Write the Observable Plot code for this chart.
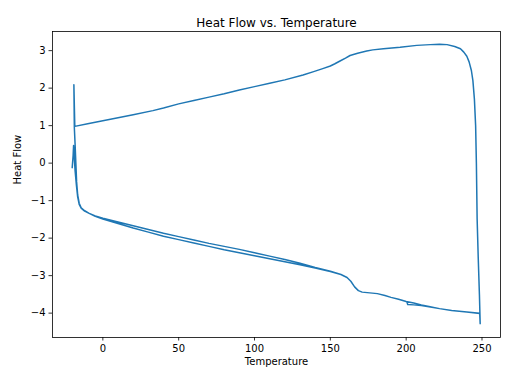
<!DOCTYPE html>
<html>
<head>
<meta charset="utf-8">
<script src="https://cdn.jsdelivr.net/npm/d3@7"></script>
<script src="https://cdn.jsdelivr.net/npm/@observablehq/plot@0.6"></script>
<style>
  html, body { margin: 0; padding: 0; background: #fff; }
  #chart { width: 512px; height: 384px; }
</style>
</head>
<body>
<div id="chart"></div>
<script>
// ---- Data ----
const title = "Heat Flow vs. Temperature";
const xLabel = "Temperature";
const yLabel = "Heat Flow";
const xTicks = [0, 50, 100, 150, 200, 250];
const yTicks = [-4, -3, -2, -1, 0, 1, 2, 3];

// first heating
const heat1T  = [-20.2, -19.6, -19.3, -18.9, -18.3, -17.4, -16.6, -15.6, -14.3, -12, -9, -5, 0, 10, 20, 30, 40, 50, 60, 70, 80, 90, 100, 110, 120, 130, 140, 150, 157, 161, 163.5, 166, 168.5, 171, 176, 181, 186, 190, 195, 200, 205, 210, 215, 222, 230, 240, 248.5];
const heat1HF = [-0.12, 0.2, 0.47, 0.2, -0.2, -0.6, -0.9, -1.1, -1.2, -1.28, -1.34, -1.41, -1.47, -1.57, -1.67, -1.77, -1.87, -1.96, -2.05, -2.14, -2.22, -2.3, -2.39, -2.48, -2.57, -2.67, -2.78, -2.88, -2.97, -3.05, -3.15, -3.3, -3.4, -3.44, -3.46, -3.48, -3.53, -3.58, -3.63, -3.69, -3.73, -3.78, -3.82, -3.88, -3.93, -3.97, -4.01];

// cooling
const coolT  = [248.8, 248.3, 247.5, 246.8, 246.3, 245.8, 245, 244, 243, 241.5, 240, 238, 235.8, 232, 227, 222, 216, 207, 196, 185, 178, 174, 168, 163, 160, 156.7, 153, 150, 145, 139, 132, 120, 110, 100, 90, 80, 70, 60, 50, 40, 33, 20, 10, 0, -10, -18.5];
const coolHF = [-4.28, -3.5, -2.5, -1.5, 0, 1, 1.7, 2.2, 2.47, 2.7, 2.85, 2.96, 3.05, 3.11, 3.16, 3.17, 3.16, 3.14, 3.09, 3.05, 3.02, 2.99, 2.93, 2.87, 2.8, 2.73, 2.65, 2.59, 2.52, 2.44, 2.35, 2.22, 2.13, 2.04, 1.95, 1.85, 1.76, 1.67, 1.58, 1.47, 1.4, 1.29, 1.21, 1.13, 1.05, 0.98];

// second heating
const heat2T  = [-19.1, -18.8, -18.3, -17.8, -17.3, -16.6, -15.6, -14.3, -12, -9, -5, 0, 10, 20, 30, 40, 50, 60, 70, 80, 90, 100, 110, 120, 130, 140, 150, 157, 161, 163.5, 166, 168.5, 171, 176, 181, 186, 190, 195, 200.5, 201, 205, 210, 215, 222, 230, 240, 248.5];
const heat2HF = [2.09, 0.95, 0.5, 0, -0.5, -0.85, -1.07, -1.19, -1.27, -1.34, -1.42, -1.49, -1.61, -1.73, -1.84, -1.95, -2.04, -2.13, -2.22, -2.31, -2.39, -2.47, -2.55, -2.63, -2.71, -2.8, -2.89, -2.97, -3.05, -3.15, -3.3, -3.4, -3.44, -3.46, -3.48, -3.53, -3.58, -3.63, -3.7, -3.77, -3.78, -3.8, -3.83, -3.88, -3.93, -3.97, -4.0];

// ---- Build the ordered path ----
const data = [];
heat1T.forEach((t, i) => data.push({T: t, HF: heat1HF[i]}));
coolT.forEach((t, i) => data.push({T: t, HF: coolHF[i]}));
heat2T.forEach((t, i) => data.push({T: t, HF: heat2HF[i]}));

const font = "DejaVu Sans, sans-serif";

const chart = Plot.plot({
  width: 512,
  height: 384,
  marginLeft: 52,
  marginRight: 12,
  marginTop: 31,
  marginBottom: 47,
  style: { fontFamily: font, fontSize: "10px", color: "black", background: "white", overflow: "visible" },
  x: { domain: [-33.2, 262.2] },
  y: { domain: [-4.65, 3.51] },
  marks: [
    Plot.line(data, { x: "T", y: "HF", stroke: "#1f77b4", strokeWidth: 1.5, curve: "linear" }),
    Plot.frame({ stroke: "black", strokeWidth: 0.8 }),
    Plot.axisX({ ticks: xTicks, tickSize: 3.5, tickPadding: 3.5, label: null, fontSize: 10, strokeWidth: 0.8 }),
    Plot.axisY({ ticks: yTicks, tickSize: 3.5, tickPadding: 3.5, label: null, fontSize: 10, strokeWidth: 0.8,
                 tickFormat: d => (d < 0 ? "\u2212" + Math.abs(d) : String(d)) }),
    Plot.text([xLabel], { frameAnchor: "bottom", dy: 27, text: d => d, fontSize: 10, fill: "black" }),
    Plot.text([yLabel], { frameAnchor: "left", dx: -35, rotate: -90, text: d => d, fontSize: 10, fill: "black" }),
    Plot.text([title], { frameAnchor: "top", dy: -13, text: d => d, fontSize: 12, fill: "black" })
  ]
});
document.getElementById("chart").appendChild(chart);
</script>
</body>
</html>
